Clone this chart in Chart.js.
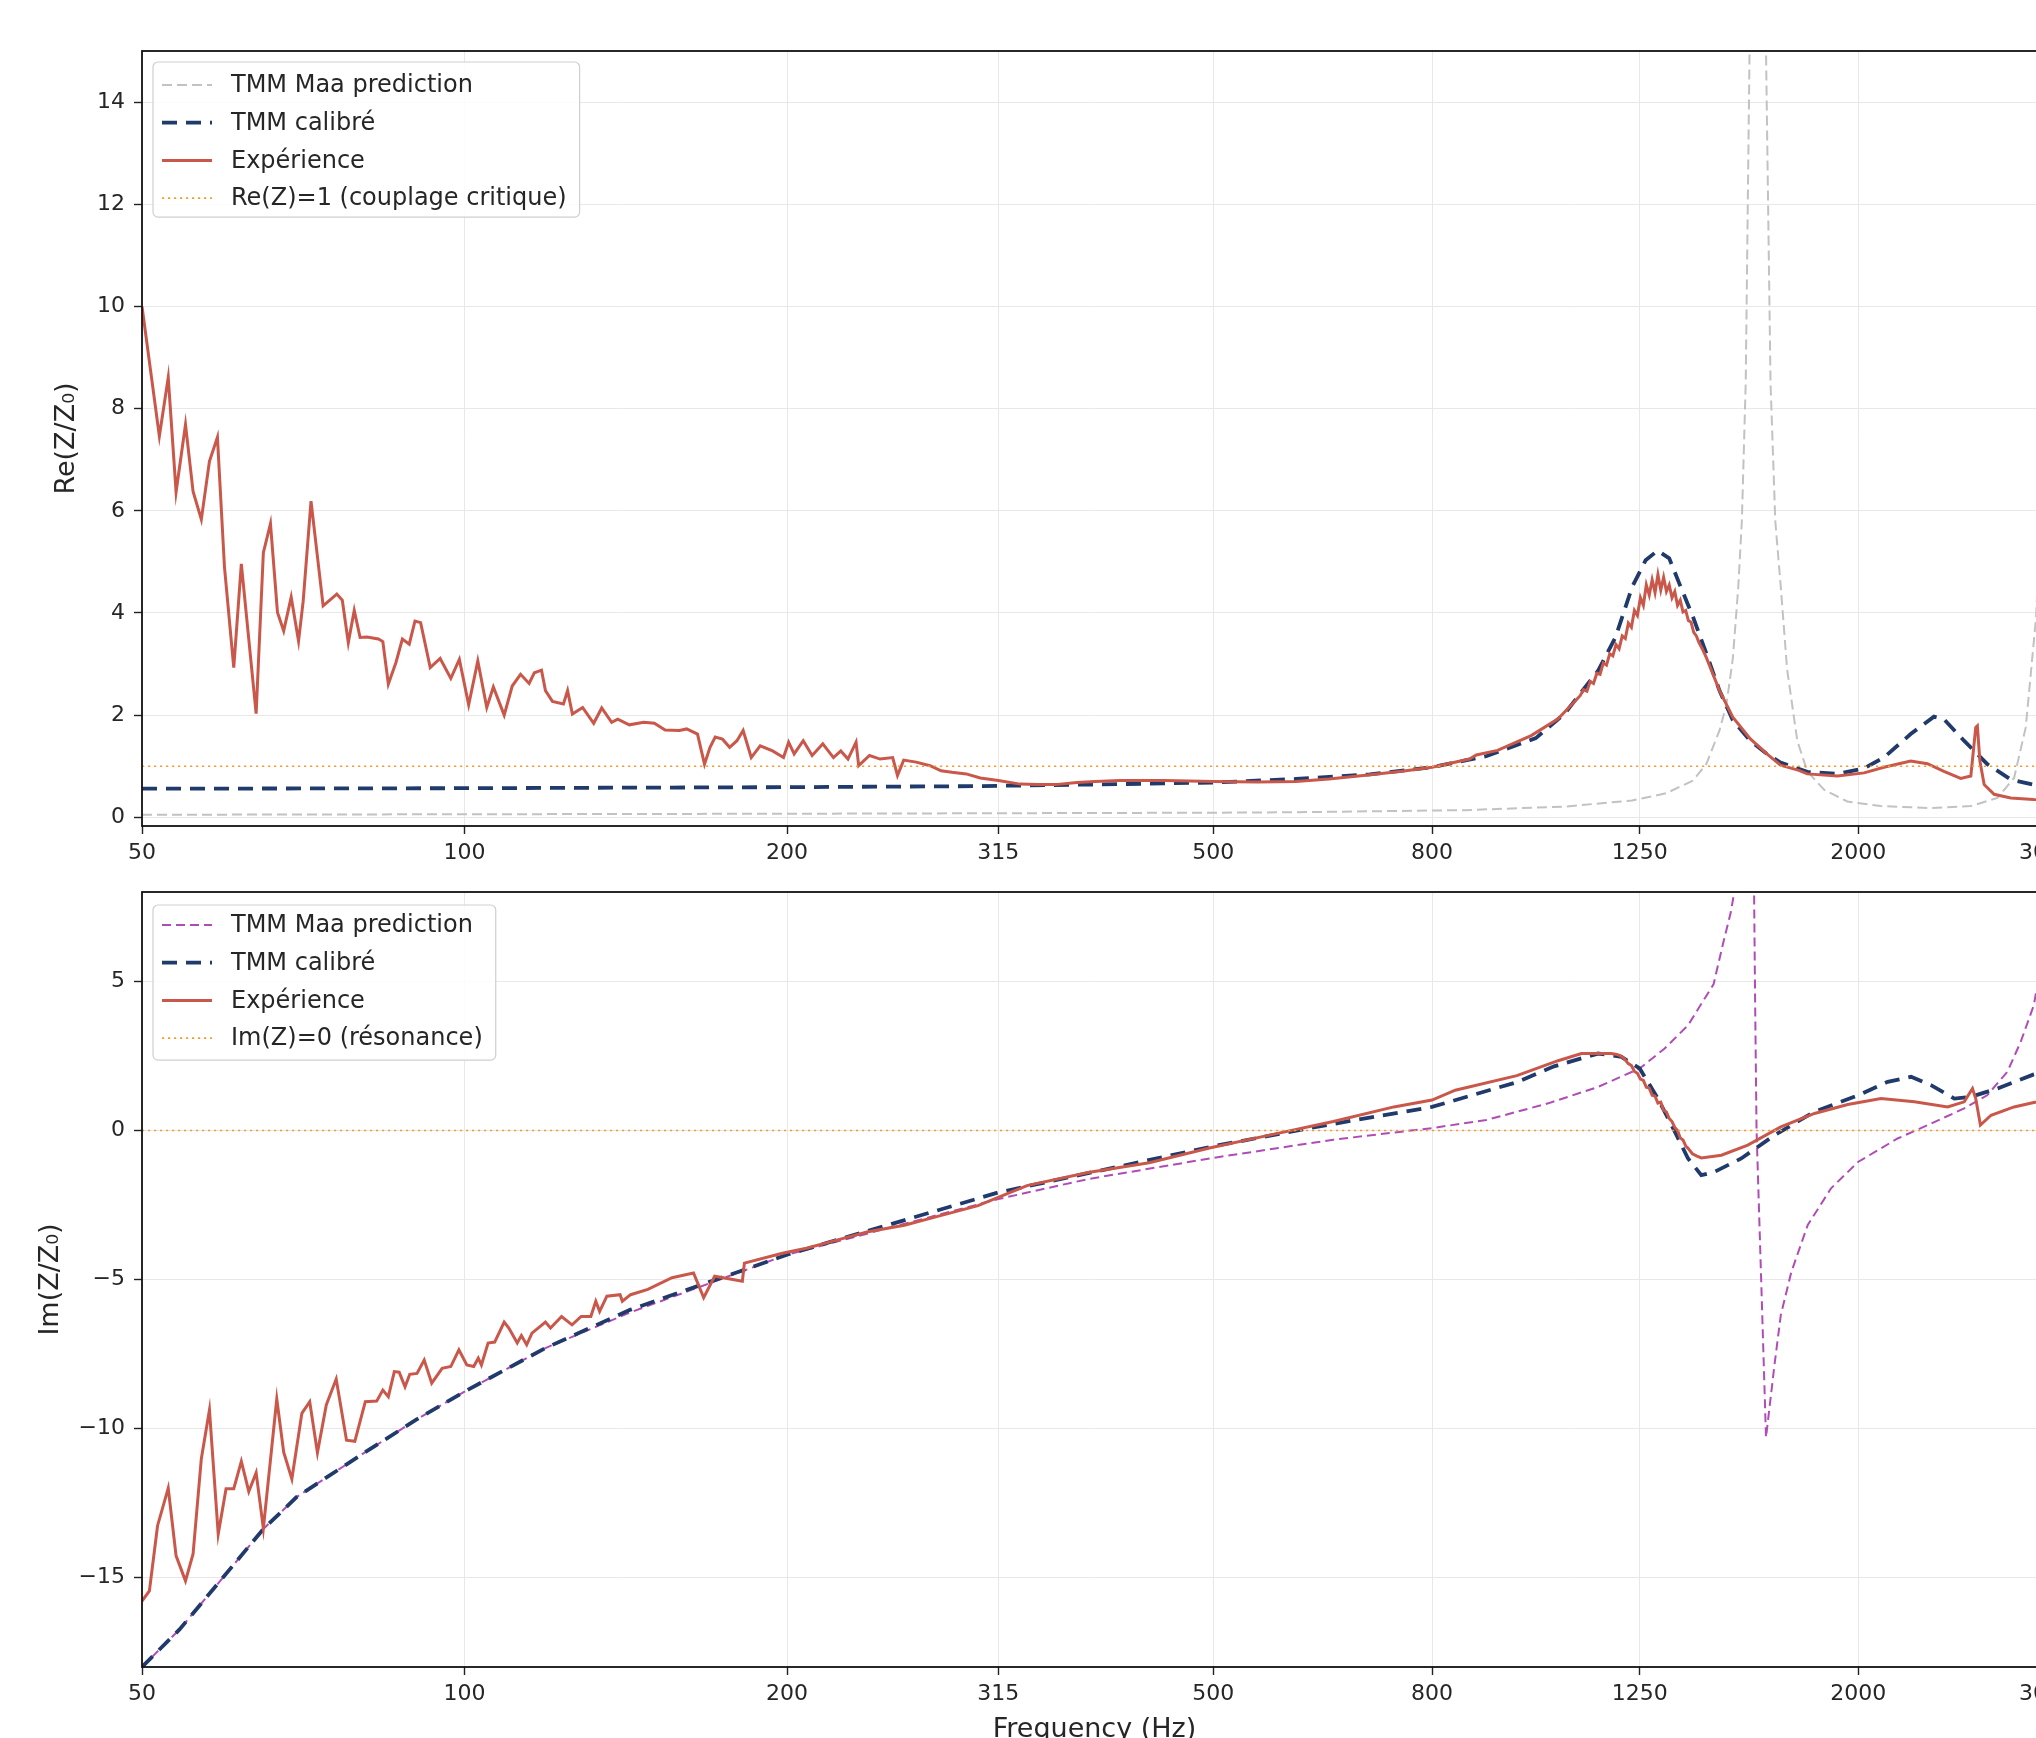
<!DOCTYPE html>
<html>
<head>
<meta charset="utf-8">
<script src="https://cdn.jsdelivr.net/npm/chart.js@4"></script>
<style>
  html, body { margin: 0; padding: 0; background: #fff; }
  body { width: 2036px; height: 1738px; overflow: hidden; position: relative; }
  canvas { position: absolute; left: 0; }
  #re-chart { top: 0; }
  #im-chart { top: 860px; }
</style>
</head>
<body>
<canvas id="re-chart" width="2100" height="880"></canvas>
<canvas id="im-chart" width="2100" height="900"></canvas>
<script>
// ─── Données ────────────────────────────────────────────────────────────────

const freqTicks = [50, 100, 200, 315, 500, 800, 1250, 2000, 3000];
const reTicks = [0, 2, 4, 6, 8, 10, 12, 14];
const imTicks = [-15, -10, -5, 0, 5];

// Re(Z/Z0) — TMM Maa prediction
const reMaaFreq = [50, 100, 200, 315, 500, 597, 857, 1064, 1230, 1323, 1402, 1443, 1484, 1506, 1527, 1545, 1557, 1570, 1583, 1597, 1612, 1627, 1640, 1656, 1673, 1693, 1716, 1754, 1792, 1858, 1953, 2098, 2337, 2547, 2697, 2795, 2866, 2897, 2930, 2960, 3000];
const reMaa = [0.05, 0.06, 0.07, 0.08, 0.09, 0.10, 0.14, 0.21, 0.33, 0.47, 0.72, 1.05, 1.70, 2.2, 3.1, 4.5, 5.8, 8.5, 15, 25, 32, 25, 15, 8.5, 5.8, 4.5, 2.9, 1.5, 0.90, 0.54, 0.31, 0.22, 0.18, 0.22, 0.38, 0.77, 1.76, 2.8, 3.9, 6, 12];

// Re(Z/Z0) — TMM calibré
const reCalFreq = [50, 100, 200, 300, 409, 500, 597, 700, 800, 900, 1000, 1064, 1144, 1187, 1230, 1266, 1299, 1332, 1361, 1402, 1443, 1484, 1527, 1585, 1643, 1692, 1792, 1912, 2025, 2113, 2238, 2353, 2404, 2510, 2639, 2775, 2914, 3000];
const reCal = [0.56, 0.57, 0.59, 0.61, 0.65, 0.68, 0.75, 0.84, 0.98, 1.20, 1.55, 2.03, 2.88, 3.53, 4.51, 5.03, 5.22, 5.07, 4.58, 3.92, 3.20, 2.48, 1.90, 1.50, 1.24, 1.07, 0.89, 0.85, 0.96, 1.17, 1.63, 1.97, 1.92, 1.50, 1.04, 0.74, 0.64, 0.60];

// Re(Z/Z0) — Expérience
const reExpFreq = [50, 51.9, 52.9, 53.8, 54.9, 55.8, 56.8, 57.8, 58.8, 59.7, 60.9, 61.9, 63.9, 64.9, 65.9, 66.9, 67.8, 68.9, 70.0, 70.7, 71.9, 73.8, 76.0, 76.9, 77.9, 78.9, 79.9, 81.1, 83.1, 83.9, 84.9, 86.3, 87.5, 88.8, 89.9, 91.0, 92.9, 94.9, 97.1, 98.9, 100.9, 102.9, 104.9, 106.4, 108.9, 110.8, 112.8, 114.9, 116.2, 118.0, 119.0, 120.8, 123.7, 124.8, 126.1, 128.9, 132.0, 134.3, 137.2, 139, 142.5, 147, 150.4, 153.9, 158.7, 161.2, 165, 167.5, 169.5, 171.4, 174.1, 176.8, 179.6, 182, 185.2, 188.8, 193.9, 198.5, 200.7, 203.1, 207.1, 211.1, 216, 221, 224.5, 228, 232, 233.3, 238.8, 244.3, 251, 253.6, 257, 264, 272, 278.5, 285, 294, 303, 315, 330, 343, 356, 373, 388, 409, 450, 500, 550, 597, 641, 690, 750, 800, 867, 880, 921, 990, 1049, 1100, 1108, 1116, 1124, 1132, 1140, 1148, 1156, 1164, 1172, 1180, 1188, 1196, 1204, 1212, 1220, 1228, 1236, 1244, 1252, 1260, 1268, 1276, 1284, 1292, 1300, 1308, 1316, 1324, 1332, 1340, 1348, 1356, 1364, 1372, 1380, 1388, 1396, 1404, 1412, 1420, 1430, 1443, 1484, 1527, 1585, 1643, 1692, 1760, 1792, 1912, 2025, 2113, 2238, 2320, 2404, 2492, 2547, 2574, 2583, 2597, 2621, 2678, 2775, 2914, 3000];
const reExp = [10.0, 7.46, 8.61, 6.37, 7.69, 6.38, 5.83, 6.97, 7.44, 4.89, 2.93, 4.96, 2.03, 5.18, 5.75, 4.01, 3.65, 4.31, 3.45, 4.23, 6.19, 4.14, 4.37, 4.25, 3.42, 4.05, 3.52, 3.53, 3.49, 3.44, 2.61, 3.03, 3.49, 3.39, 3.84, 3.81, 2.93, 3.11, 2.72, 3.09, 2.20, 3.06, 2.15, 2.55, 2.00, 2.57, 2.80, 2.62, 2.83, 2.88, 2.48, 2.27, 2.22, 2.48, 2.02, 2.15, 1.84, 2.14, 1.86, 1.92, 1.81, 1.86, 1.84, 1.71, 1.70, 1.73, 1.63, 1.04, 1.37, 1.57, 1.53, 1.37, 1.50, 1.70, 1.17, 1.40, 1.30, 1.17, 1.47, 1.24, 1.50, 1.21, 1.44, 1.17, 1.30, 1.14, 1.47, 1.01, 1.21, 1.14, 1.17, 0.82, 1.12, 1.08, 1.01, 0.91, 0.88, 0.85, 0.77, 0.72, 0.65, 0.64, 0.64, 0.68, 0.70, 0.72, 0.72, 0.70, 0.69, 0.70, 0.75, 0.82, 0.90, 0.98, 1.14, 1.22, 1.31, 1.60, 1.93, 2.38, 2.50, 2.47, 2.66, 2.62, 2.82, 2.80, 3.02, 2.98, 3.20, 3.16, 3.38, 3.30, 3.55, 3.50, 3.80, 3.72, 4.05, 3.95, 4.30, 4.15, 4.55, 4.35, 4.65, 4.40, 4.75, 4.45, 4.70, 4.42, 4.55, 4.30, 4.42, 4.15, 4.25, 4.02, 4.05, 3.85, 3.82, 3.62, 3.55, 3.42, 3.30, 3.12, 2.48, 1.96, 1.54, 1.24, 1.02, 0.92, 0.85, 0.81, 0.87, 0.98, 1.10, 1.05, 0.90, 0.76, 0.81, 1.76, 1.79, 1.10, 0.64, 0.45, 0.38, 0.35, 0.34];

// Im(Z/Z0) — TMM Maa prediction
const imMaaFreq = [50, 54.2, 59.5, 64.9, 69.7, 80.4, 90, 100, 119, 133.4, 142.9, 200, 315, 382, 500, 647, 800, 899, 1027, 1143, 1250, 1319, 1387, 1437, 1465, 1496, 1520, 1532, 1560, 1580, 1592, 1598, 1602, 1607, 1623, 1640, 1656, 1670, 1693, 1732, 1794, 1886, 2000, 2176, 2338, 2511, 2638, 2755, 2835, 2916, 2960, 3000];
const imMaa = [-18.0, -16.74, -15.0, -13.37, -12.3, -10.84, -9.72, -8.76, -7.3, -6.55, -6.1, -4.17, -2.30, -1.63, -0.92, -0.31, 0.08, 0.35, 0.91, 1.46, 2.08, 2.75, 3.53, 4.42, 4.9, 6.3, 7.3, 8.0, 11, 14.5, 13, 8.5, 4.4, 0, -5, -10.3, -9.0, -7.87, -6.19, -4.74, -3.17, -1.94, -1.05, -0.27, 0.23, 0.74, 1.18, 1.97, 2.97, 4.20, 5.5, 7];

// Im(Z/Z0) — TMM calibré
const imCalFreq = [50, 54.2, 59.5, 64.9, 69.7, 80.4, 90, 100, 119, 142.9, 200, 315, 500, 626, 800, 960, 1040, 1143, 1202, 1250, 1300, 1348, 1387, 1427, 1468, 1555, 1670, 1820, 2000, 2130, 2240, 2338, 2458, 2547, 2698, 2916, 3000];
const imCal = [-18.0, -16.74, -15.0, -13.37, -12.3, -10.84, -9.72, -8.76, -7.3, -6.01, -4.17, -2.08, -0.53, 0.13, 0.79, 1.62, 2.15, 2.58, 2.47, 2.08, 1.07, -0.04, -0.94, -1.50, -1.39, -0.94, -0.16, 0.63, 1.18, 1.63, 1.80, 1.52, 1.07, 1.13, 1.41, 1.88, 2.0];

// Im(Z/Z0) — Expérience
const imExpFreq = [50, 50.8, 51.7, 52.9, 53.8, 54.9, 55.8, 56.8, 57.8, 58.9, 59.9, 60.9, 61.9, 62.9, 63.9, 64.9, 66.8, 67.8, 69.0, 70.5, 71.7, 72.9, 74.3, 75.9, 77.6, 79.0, 80.8, 82.8, 83.9, 84.9, 86.0, 86.9, 88.0, 88.9, 90.3, 91.7, 93.2, 95.3, 97.1, 98.8, 100.5, 102.0, 103.0, 103.7, 105.2, 106.7, 108.9, 110.0, 112.0, 113.0, 114.3, 115.6, 119.0, 120.3, 123.2, 126.0, 128.5, 131.2, 132.6, 133.7, 135.8, 139.7, 140.4, 142.9, 148.3, 156.2, 163.6, 167.2, 171.2, 181.7, 182.5, 198, 208.5, 225.7, 238, 257.4, 278.7, 301.5, 335, 382, 435.6, 497, 567, 647, 737, 800, 841, 960, 1049, 1103, 1176, 1190, 1200, 1210, 1219, 1228, 1236, 1244, 1252, 1260, 1268, 1276, 1284, 1292, 1300, 1308, 1316, 1324, 1332, 1340, 1348, 1356, 1364, 1372, 1380, 1387, 1400, 1414, 1427, 1490, 1577, 1693, 1820, 1955, 2100, 2256, 2423, 2511, 2556, 2574, 2600, 2660, 2795, 2916, 3000];
const imExp = [-15.79, -15.45, -13.26, -12.0, -14.27, -15.11, -14.21, -11.01, -9.38, -13.54, -12.02, -12.02, -11.1, -12.11, -11.48, -13.35, -9.01, -10.79, -11.69, -9.49, -9.10, -10.81, -9.21, -8.34, -10.39, -10.43, -9.10, -9.08, -8.71, -8.93, -8.09, -8.11, -8.60, -8.18, -8.15, -7.70, -8.48, -7.98, -7.92, -7.36, -7.87, -7.92, -7.64, -7.87, -7.13, -7.10, -6.43, -6.63, -7.13, -6.88, -7.19, -6.80, -6.43, -6.63, -6.24, -6.52, -6.24, -6.24, -5.73, -6.07, -5.56, -5.51, -5.73, -5.51, -5.33, -4.94, -4.78, -5.61, -4.89, -5.06, -4.45, -4.12, -3.95, -3.62, -3.40, -3.18, -2.85, -2.52, -1.85, -1.41, -1.08, -0.58, -0.14, 0.30, 0.79, 1.02, 1.35, 1.84, 2.34, 2.58, 2.58, 2.55, 2.50, 2.40, 2.25, 2.18, 1.98, 1.92, 1.72, 1.68, 1.45, 1.42, 1.18, 1.15, 0.92, 0.95, 0.68, 0.62, 0.40, 0.30, 0.10, 0.0, -0.25, -0.32, -0.52, -0.60, -0.78, -0.86, -0.92, -0.83, -0.49, 0.12, 0.57, 0.87, 1.07, 0.96, 0.79, 0.96, 1.41, 1.07, 0.18, 0.51, 0.79, 0.94, 1.0];

// ─── Style ──────────────────────────────────────────────────────────────────

const FONT = '"DejaVu Sans", sans-serif';
const TEXT_COLOR = "#262626";
const GRID_COLOR = "#e8e8e8";

Chart.defaults.font.family = FONT;
Chart.defaults.color = TEXT_COLOR;

function pts(xs, ys) {
    return xs.map((x, i) => ({x, y: ys[i]}));
}

function refLine(y) {
    return [{x: 50, y}, {x: 3000, y}];
}

// Cadre noir autour de la zone de tracé (spines matplotlib)
const framePlugin = {
    id: "frame",
    afterDatasetsDraw(chart) {
        const {ctx, chartArea: a} = chart;
        ctx.save();
        ctx.strokeStyle = "#111";
        ctx.lineWidth = 1.8;
        ctx.strokeRect(a.left, a.top, a.right - a.left, a.bottom - a.top);
        ctx.restore();
    },
};

// Légende dans la zone de tracé, en haut à gauche, avec cadre arrondi
const boxLegendPlugin = {
    id: "boxLegend",
    afterDraw(chart, args, opts) {
        const {ctx, chartArea: a} = chart;
        const sets = chart.data.datasets;
        ctx.save();
        ctx.font = `24px ${FONT}`;
        const textW = Math.max(...sets.map((d) => ctx.measureText(d.label).width));
        const x0 = a.left + 11;
        const y0 = a.top + opts.top;
        const rowH = 37.7;
        const w = 78 + textW + 13;
        const h = 42 + rowH * (sets.length - 1);

        ctx.beginPath();
        ctx.roundRect(x0, y0, w, h, 5);
        ctx.fillStyle = "rgba(255,255,255,0.85)";
        ctx.fill();
        ctx.strokeStyle = "#cfcfcf";
        ctx.lineWidth = 1.2;
        ctx.stroke();

        sets.forEach((d, i) => {
            const y = y0 + opts.first + i * rowH;
            ctx.beginPath();
            ctx.setLineDash(d.borderDash || []);
            ctx.lineWidth = d.borderWidth;
            ctx.strokeStyle = d.borderColor;
            ctx.moveTo(x0 + 9, y);
            ctx.lineTo(x0 + 59, y);
            ctx.stroke();
            ctx.setLineDash([]);
            ctx.fillStyle = TEXT_COLOR;
            ctx.textBaseline = "middle";
            ctx.textAlign = "left";
            ctx.fillText(d.label, x0 + 78, y + 1);
        });
        ctx.restore();
    },
};

function xScale(height, title) {
    return {
        type: "logarithmic",
        min: 50,
        max: 3000,
        afterBuildTicks: (s) => { s.ticks = freqTicks.map((v) => ({value: v})); },
        afterFit: (s) => { s.height = height; s.paddingLeft = 0; s.paddingRight = 0; },
        ticks: {callback: (v) => String(v), font: {size: 22}, padding: 6, maxRotation: 0, autoSkip: false},
        grid: {color: GRID_COLOR, lineWidth: 1, tickColor: "#222", tickLength: 8, tickWidth: 1.4},
        border: {display: false},
        title: title
            ? {display: true, text: "Frequency (Hz)", font: {size: 27}, padding: {top: 0, bottom: 13.8}}
            : {display: false},
    };
}

function yScale(min, max, ticks, label, titlePad) {
    return {
        type: "linear",
        min,
        max,
        afterBuildTicks: (s) => { s.ticks = ticks.map((v) => ({value: v})); },
        afterFit: (s) => { s.width = 142; s.paddingTop = 0; s.paddingBottom = 0; },
        ticks: {callback: (v) => String(v).replace("-", "\u2212"), font: {size: 22}, padding: 9},
        grid: {color: GRID_COLOR, lineWidth: 1, tickColor: "#222", tickLength: 8, tickWidth: 1.4},
        border: {display: false},
        title: {display: true, text: label, font: {size: 27}, padding: {top: titlePad, bottom: 0}},
    };
}

function lineSet(label, data, color, width, dash, order) {
    return {
        label, data, order,
        borderColor: color,
        backgroundColor: "transparent",
        borderWidth: width,
        borderDash: dash,
        pointRadius: 0,
        tension: 0,
        fill: false,
    };
}

function baseOptions(padTop, xHeight, xTitle, y, legend) {
    return {
        responsive: false,
        animation: false,
        devicePixelRatio: 1,
        events: [],
        layout: {padding: {top: padTop, right: 53, left: 0, bottom: 0}},
        scales: {x: xScale(xHeight, xTitle), y},
        plugins: {legend: {display: false}, tooltip: {enabled: false}, boxLegend: legend},
    };
}

// ─── Re(Z/Z0) ───────────────────────────────────────────────────────────────

new Chart(document.getElementById("re-chart"), {
    type: "line",
    data: {
        datasets: [
            lineSet("TMM Maa prediction", pts(reMaaFreq, reMaa), "#c2c2c2", 2, [10, 5], 4),
            lineSet("TMM calibré", pts(reCalFreq, reCal), "#1f3a6b", 3.8, [15, 9], 3),
            lineSet("Expérience", pts(reExpFreq, reExp), "#c9584b", 3, [], 2),
            lineSet("Re(Z)=1 (couplage critique)", refLine(1), "#f29d2f", 1.6, [2.2, 3.8], 1),
        ],
    },
    options: baseOptions(51, 54, false, yScale(-0.17, 15, reTicks, "Re(Z/Z\u2080)", 51), {top: 11, first: 23}),
    plugins: [framePlugin, boxLegendPlugin],
});

// ─── Im(Z/Z0) ───────────────────────────────────────────────────────────────

new Chart(document.getElementById("im-chart"), {
    type: "line",
    data: {
        datasets: [
            lineSet("TMM Maa prediction", pts(imMaaFreq, imMaa), "#b04cb6", 2, [9, 5], 4),
            lineSet("TMM calibré", pts(imCalFreq, imCal), "#1f3a6b", 3.8, [15, 9], 3),
            lineSet("Expérience", pts(imExpFreq, imExp), "#c9584b", 3, [], 2),
            lineSet("Im(Z)=0 (résonance)", refLine(0), "#f29d2f", 1.6, [2.2, 3.8], 1),
        ],
    },
    options: baseOptions(32, 93, true, yScale(-18, 8, imTicks, "Im(Z/Z\u2080)", 34.5), {top: 13, first: 20}),
    plugins: [framePlugin, boxLegendPlugin],
});
</script>
</body>
</html>
